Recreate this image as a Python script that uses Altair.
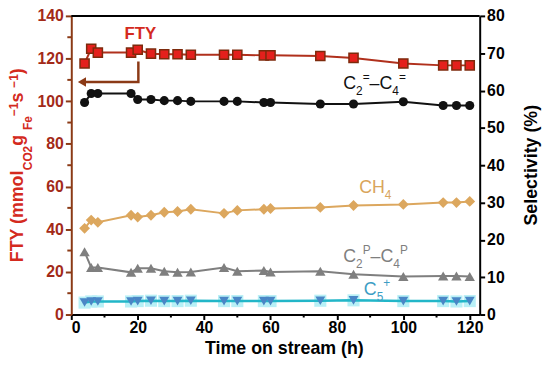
import altair as alt
import pandas as pd

# ---- data ----
time_h = [4, 6, 8, 18, 20, 24, 28, 32, 36, 46, 50, 58, 60, 75, 85, 100, 112, 116, 120]
fty = [117.7, 124.6, 122.8, 122.8, 124.1, 122.3, 122.0, 122.0, 121.8, 121.8, 121.8,
       121.5, 121.5, 121.2, 120.3, 117.7, 116.8, 116.8, 116.8]
sel_olefin = [56.8, 59.2, 59.2, 59.2, 57.6, 57.6, 57.3, 57.3, 57.1, 57.1, 57.1,
              56.8, 56.8, 56.4, 56.4, 57.0, 56.0, 56.0, 56.0]
sel_ch4 = [23.1, 25.3, 24.7, 26.6, 26.1, 26.6, 27.4, 27.6, 28.2, 27.1, 27.9,
           28.2, 28.4, 28.7, 29.2, 29.5, 30.0, 30.0, 30.3]
sel_paraffin = [16.8, 12.6, 12.6, 11.3, 12.4, 12.4, 11.6, 11.3, 11.4, 12.6, 11.6,
                11.8, 11.4, 11.6, 10.8, 10.2, 10.3, 10.3, 10.2]
sel_c5 = [3.2, 3.5, 3.5, 3.5, 3.6, 3.7, 3.6, 3.6, 3.7, 3.6, 3.6,
          3.6, 3.6, 3.7, 3.8, 3.6, 3.6, 3.5, 3.6]

x_ticks = [0, 20, 40, 60, 80, 100, 120]
x_minor = [10, 30, 50, 70, 90, 110]
left_ticks = [0, 20, 40, 60, 80, 100, 120, 140]
left_minor = [10, 30, 50, 70, 90, 110, 130]
right_ticks = [0, 10, 20, 30, 40, 50, 60, 70, 80]

# arrow from the FTY label to the left axis (time, FTY)
arrow_t = [20.2, 20.2, 3.2]
arrow_v = [118.6, 109.0, 109.0]

W, H = 413, 302
FONT = "Liberation Sans"
BROWN = "#8b3a16"
RED = "#d42a1e"

df = pd.DataFrame({"t": time_h, "fty": fty, "ole": sel_olefin, "ch4": sel_ch4,
                   "par": sel_paraffin, "c5": sel_c5})
dummy = pd.DataFrame({"a": [0]})

xs = alt.Scale(domain=[0, 123], nice=False, zero=False)
yl = alt.Scale(domain=[0, 140], nice=False)
yr = alt.Scale(domain=[0, 80], nice=False)

x_axis = alt.Axis(values=x_ticks, title=None, grid=False, orient="bottom", tickSize=5,
                  tickWidth=2, tickColor="black", domainColor="black", domainWidth=2,
                  labelFont=FONT, labelFontSize=16, labelFontWeight="bold",
                  labelColor="black", labelPadding=0)
l_axis = alt.Axis(values=left_ticks, title=None, grid=False, orient="left", tickSize=6,
                  tickWidth=2, tickColor=BROWN, domainColor=BROWN, domainWidth=2,
                  labelFont=FONT, labelFontSize=16, labelFontWeight="bold",
                  labelColor="#a32a18", labelPadding=2)
r_axis = alt.Axis(values=right_ticks, title=None, grid=False, orient="right", tickSize=5,
                  tickWidth=2, tickColor="black", domainColor="black", domainWidth=2,
                  labelFont=FONT, labelFontSize=16, labelFontWeight="bold",
                  labelColor="black", labelPadding=2)


def X(field):
    return alt.X(f"{field}:Q", scale=xs, axis=x_axis)


def YL(field):
    return alt.Y(f"{field}:Q", scale=yl, axis=l_axis)


def YR(field):
    return alt.Y(f"{field}:Q", scale=yr, axis=r_axis)


# ---- left (FTY) layer ----
fty_line = alt.Chart(df).mark_line(color="#b0301c", strokeWidth=2).encode(
    x=X("t"), y=YL("fty"))
fty_pts = alt.Chart(df).mark_square(size=85, fill="#e4201c", stroke="#7d2a0c",
                                    strokeWidth=1.5, opacity=1).encode(x=X("t"), y=YL("fty"))
arrow_df = pd.DataFrame({"t": arrow_t, "v": arrow_v, "i": [0, 1, 2]})
arrow_line = alt.Chart(arrow_df).mark_line(color=BROWN, strokeWidth=2.5).encode(
    x=X("t"), y=YL("v"), order="i:Q")
arrow_head = alt.Chart(arrow_df.iloc[[2]]).mark_point(
    shape="triangle-left", filled=True, color=BROWN, size=90, opacity=1).encode(
    x=X("t"), y=YL("v"))
fty_label = alt.Chart(pd.DataFrame({"t": [20.8], "v": [131.3], "s": ["FTY"]})).mark_text(
    font=FONT, fontSize=17, fontWeight="bold", color=RED, baseline="middle").encode(
    x=X("t"), y=YL("v"), text="s:N")
lminor = alt.Chart(pd.DataFrame({"v": left_minor})).mark_rule(color=BROWN, strokeWidth=2).encode(
    y=YL("v"), x=alt.value(0), x2=alt.value(-4))

left = alt.layer(fty_line, arrow_line, arrow_head, fty_pts, fty_label, lminor)


# ---- right (selectivity) layer ----
def series(col, color, shape, size, line_color=None, lw=2):
    ln = alt.Chart(df).mark_line(color=line_color or color, strokeWidth=lw).encode(
        x=X("t"), y=YR(col))
    pt = alt.Chart(df).mark_point(shape=shape, filled=True, color=color, size=size,
                                  opacity=1).encode(x=X("t"), y=YR(col))
    return [ln, pt]


c5_halo = alt.Chart(df).mark_square(size=150, color="#b8f0f6", opacity=1).encode(
    x=X("t"), y=YR("c5"))

right_layers = []
right_layers += series("ole", "#111111", "circle", 85)
right_layers += series("ch4", "#dca75e", "diamond", 120)
right_layers += series("par", "#7f7f7f", "triangle-up", 110)
right_layers.append(c5_halo)
right_layers += series("c5", "#4a86c6", "triangle-down", 100, line_color="#22b6c8", lw=2.5)

# series labels built from pieces: (text, size, baseline shift)
em_reg = {"C": .722, "H": .722, "2": .556, "4": .556, "5": .556, "=": .584,
          "–": .556, "P": .667, "+": .584}
series_labels = [
    (81.9, 60.4, "#111111", [("C", 18, 0), ("2", 12, 6), ("=", 12, -8), ("–", 18, 0),
                             ("C", 18, 0), ("4", 12, 6), ("=", 12, -8)]),
    (86.7, 32.6, "#d9a55c", [("CH", 18, 0), ("4", 12, 6)]),
    (81.9, 14.0, "#7f7f7f", [("C", 18, 0), ("2", 12, 6), ("P", 12, -8), ("–", 18, 0),
                             ("C", 18, 0), ("4", 12, 6), ("P", 12, -8)]),
    (88.1, 5.3, "#3d9dc4", [("C", 18, 0), ("5", 12, 6), ("+", 12, -8)]),
]
for t0, v0, col, pieces in series_labels:
    anchor = pd.DataFrame({"t": [t0], "v": [v0]})
    cum = 0.0
    for s, sz, off in pieces:
        right_layers.append(alt.Chart(anchor).mark_text(
            text=s, font=FONT, fontSize=sz, color=col, align="left",
            baseline="alphabetic", dx=cum, dy=off).encode(x=X("t"), y=YR("v")))
        cum += sum(em_reg[ch] for ch in s) * sz

right = alt.layer(*right_layers)

# ---- decorations: frame top, minor x ticks, titles ----
deco = []
deco.append(alt.Chart(dummy).mark_rule(color="black", strokeWidth=2).encode(
    x=alt.value(0), x2=alt.value(W), y=alt.value(0)))
deco.append(alt.Chart(pd.DataFrame({"v": x_minor})).mark_rule(color="black", strokeWidth=2).encode(
    x=X("v"), y=alt.value(H), y2=alt.value(H + 3)))
deco.append(alt.Chart(dummy).mark_text(
    text="Time on stream (h)", font=FONT, fontSize=18, fontWeight="bold", color="black",
    align="center", baseline="alphabetic").encode(x=alt.value(215.5), y=alt.value(H + 40)))
deco.append(alt.Chart(dummy).mark_text(
    text="Selectivity (%)", font=FONT, fontSize=18, fontWeight="bold", color="black",
    align="center", baseline="alphabetic", angle=270).encode(
    x=alt.value(471), y=alt.value(H / 2)))

# left title composed of pieces (main, subscript, superscript)
em = {"F": .611, "T": .611, "Y": .667, " ": .278, "(": .333, ")": .333, "m": .889,
      "o": .611, "l": .278, "C": .722, "O": .778, "2": .556, "g": .611, "e": .556,
      "s": .556, "−": .584, "1": .556}
parts = [("FTY (mmol", 18, 0), ("CO2", 12, 9), (" g", 18, 0), ("Fe", 12, 9),
         ("−1", 12, -5), (" s", 18, 0), ("−1", 12, -5), (")", 18, 0)]
widths = [sum(em[ch] for ch in s) * sz for s, sz, _ in parts]
total = sum(widths)
ypos = H / 2 + total / 2
for (s, sz, off), w in zip(parts, widths):
    deco.append(alt.Chart(dummy).mark_text(
        text=s, font=FONT, fontSize=sz, fontWeight="bold", color=RED, angle=270,
        align="left", baseline="alphabetic").encode(x=alt.value(-49 + off), y=alt.value(ypos)))
    ypos -= w

chart = alt.layer(left, right, *deco).resolve_scale(y="independent").properties(
    width=W, height=H,
    autosize=alt.AutoSizeParams(type="none"),
    padding={"left": 64, "top": 6, "right": 63, "bottom": 44},
).configure_view(stroke=None)

chart.save("out.html", embed_options={"renderer": "svg", "actions": False})
